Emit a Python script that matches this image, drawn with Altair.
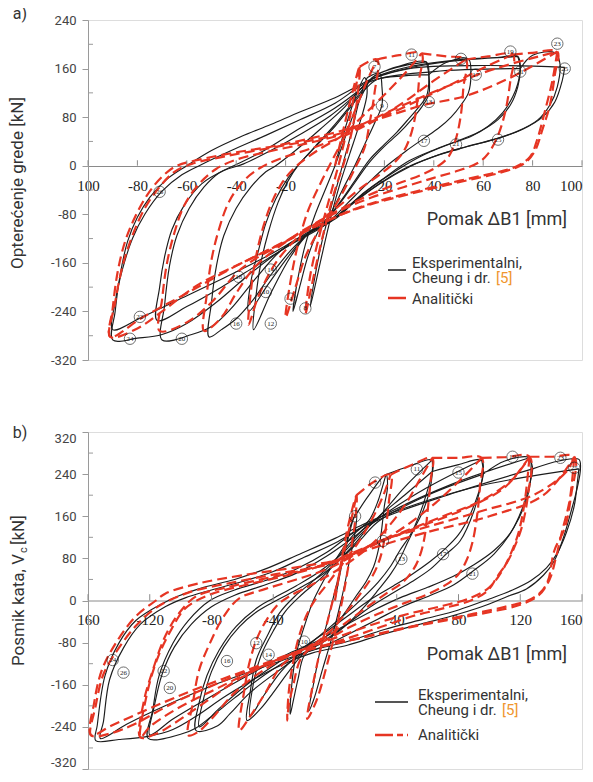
import altair as alt
import pandas as pd

# ---------------- Panel a data (beam load vs displacement) ----------------
a_exp_1 = [(0,0),(4,60),(8,110),(12,145),(13,120),(10,70),(6,20),(2,-30),(-2,-90),(-6,-160),(-10,-232),(-8,-180),(-5,-120),(-1,-60),(3,0),(7,60),(10,110),(13,145)]
a_exp_2 = [(13,145),(18,152),(19,130),(19,100),(16,70),(12,35),(8,0),(3,-40),(-2,-80),(-7,-110),(-11,-150),(-14,-195),(-17,-240),(-15,-185),(-12,-130),(-8,-80),(-4,-40),(0,0),(4,45),(8,90),(12,125),(15,145),(18,152)]
a_exp_3 = [(18,152),(25,163),(37,171),(38,145),(37,114),(34,97),(30,78),(25,55),(20,35),(14,10),(8,-25),(2,-60),(-4,-90),(-10,-108),(-18,-150),(-26,-210),(-33,-270),(-32,-215),(-30,-160),(-27,-110),(-23,-60),(-19,-25),(-15,0),(-8,32),(0,68),(7,103),(12,130),(16,148),(25,162),(37,171)]
a_exp_3b = [(37,171),(38,150),(38,118),(35,96),(31,76),(26,54),(20,32),(14,6),(8,-28),(2,-62),(-4,-92),(-11,-112),(-19,-150),(-27,-195),(-35,-240),(-34,-190),(-31,-140),(-28,-95),(-24,-55),(-19,-20),(-14,5),(-7,35),(0,65),(6,95),(12,125),(17,142),(28,148),(38,150)]
a_exp_4 = [(38,150),(45,170),(54,176),(55,150),(54,120),(51,100),(47,80),(42,62),(36,45),(29,25),(21,0),(13,-30),(5,-62),(-2,-90),(-9,-105),(-18,-140),(-26,-180),(-33,-220),(-40,-252),(-46,-270),(-51,-282),(-50,-225),(-48,-165),(-45,-115),(-40,-70),(-34,-35),(-28,-10),(-24,0),(-16,25),(-6,60),(4,97),(10,125),(15,143),(30,163),(54,176)]
a_exp_5 = [(54,176),(65,178),(74,180),(75,163),(74,135),(72,114),(68,88),(62,65),(55,48),(46,35),(36,18),(26,-5),(15,-35),(5,-68),(-3,-95),(-12,-112),(-22,-140),(-32,-185),(-42,-235),(-50,-265),(-58,-278),(-70,-287),(-69,-230),(-67,-165),(-64,-115),(-59,-70),(-53,-35),(-47,-12),(-41,0),(-30,22),(-14,62),(0,95),(10,125),(15,143),(35,165),(55,175),(74,180)]
a_exp_5b = [(74,180),(75,160),(74,130),(71,100),(66,76),(58,55),(49,40),(40,26),(30,8),(20,-20),(10,-50),(2,-80),(-6,-103),(-18,-130),(-32,-165),(-46,-200),(-60,-232),(-72,-255),(-71,-200),(-69,-150),(-66,-105),(-61,-65),(-54,-30),(-45,-8),(-37,3),(-26,25),(-14,52),(-2,82),(7,112),(14,138),(40,155),(75,160)]
a_exp_6 = [(75,160),(80,182),(89,186),(91,170),(90,130),(87,100),(82,75),(74,57),(64,43),(52,30),(40,15),(28,-5),(16,-35),(6,-65),(-2,-92),(-10,-110),(-22,-140),(-35,-180),(-48,-225),(-60,-260),(-70,-278),(-80,-284),(-90,-287),(-89,-240),(-87,-180),(-84,-125),(-80,-85),(-75,-52),(-68,-22),(-60,0),(-50,25),(-38,48),(-26,68),(-14,89),(0,112),(10,133),(15,143),(30,160),(60,165),(93,162)]
a_exp_6b = [(93,162),(92,140),(89,105),(84,80),(76,60),(66,45),(54,32),(42,18),(30,-2),(18,-30),(8,-60),(0,-88),(-8,-106),(-14,-118),(-28,-150),(-45,-185),(-62,-218),(-78,-249),(-90,-270),(-89,-225),(-86,-170),(-82,-120),(-77,-80),(-70,-42),(-62,-15),(-54,2),(-42,25),(-28,50),(-14,76),(0,103),(9,128),(15,142)]

a_ana_1 = [(0,0),(4,70),(7,120),(10,163),(9,110),(7,60),(4,10),(0,-40),(-4,-100),(-8,-170),(-12,-245),(-10,-180),(-6,-110),(-2,-50),(2,10),(6,80),(10,163)]
a_ana_2 = [(10,163),(17,175),(16,120),(14,70),(12,30),(8,-5),(3,-45),(-2,-80),(-7,-110),(-12,-150),(-16,-200),(-20,-250),(-18,-190),(-15,-130),(-11,-75),(-6,-30),(-1,10),(4,50),(9,100),(13,140),(17,175)]
a_ana_3 = [(17,175),(26,182),(35,185),(34,140),(33,95),(31,55),(28,25),(24,5),(18,-15),(10,-38),(2,-65),(-6,-90),(-15,-118),(-24,-160),(-31,-215),(-35,-262),(-34,-205),(-32,-150),(-29,-100),(-25,-55),(-20,-20),(-14,5),(-6,28),(3,50),(12,85),(22,125),(30,160),(35,185)]
a_ana_4 = [(35,185),(45,180),(53,175),(52,130),(51,85),(49,45),(46,15),(42,0),(35,-15),(25,-30),(14,-48),(3,-70),(-6,-90),(-18,-120),(-32,-165),(-40,-210),(-46,-250),(-53,-272),(-52,-215),(-50,-155),(-47,-105),(-43,-60),(-37,-25),(-30,-3),(-22,12),(-10,28),(3,48),(15,72),(28,105),(40,140),(53,175)]
a_ana_5 = [(53,175),(62,180),(72,183),(71,140),(69,90),(66,50),(62,20),(58,5),(50,-8),(40,-20),(28,-35),(15,-52),(3,-72),(-6,-92),(-20,-125),(-38,-170),(-50,-225),(-60,-258),(-71,-272),(-70,-220),(-68,-160),(-65,-110),(-61,-65),(-55,-30),(-48,-5),(-40,10),(-25,25),(-10,38),(3,52),(18,78),(35,110),(50,140),(62,165),(72,183)]
a_ana_6 = [(72,183),(80,186),(90,188),(89,150),(87,100),(84,60),(81,25),(77,5),(70,-8),(58,-20),(45,-32),(30,-47),(15,-63),(3,-80),(-5,-95),(-18,-120),(-35,-155),(-55,-195),(-70,-240),(-80,-268),(-91,-282),(-90,-235),(-88,-175),(-85,-125),(-81,-85),(-76,-48),(-70,-18),(-64,0),(-55,10),(-40,22),(-25,32),(-10,45),(3,58),(20,80),(36,100),(53,115),(72,147),(90,188)]
a_ana_6b = [(90,188),(88,140),(85,90),(82,45),(79,15),(73,-2),(62,-14),(48,-27),(33,-42),(18,-58),(5,-76),(-4,-92),(-20,-125),(-40,-165),(-60,-210),(-78,-250),(-91,-282),(-89,-225),(-86,-165),(-82,-115),(-77,-70),(-71,-35),(-65,-10),(-58,3),(-45,15),(-28,28),(-12,40),(2,53),(25,95),(45,130),(65,160),(90,188)]

a_lab_text = ["7","11","15","19","23","25","17","21","9","13","17","21","25","26","24","22","20","16","12","8","4","18","14","10"]
a_lab_x = [16,31,51,71,90,93,57,75,19,38,36,49,66,-71,-83,-79,-62,-40,-26,-12,-18,-39,-26,-28]
a_lab_y = [163,183,176,188,201,160,150,155,99,105,41,35,43,-43,-285,-249,-285,-260,-260,-235,-219,-183,-171,-208]

# ---------------- Panel b data (storey shear vs displacement) ----------------
b_exp_1 = [(0,0),(6,90),(11,150),(14,165),(13,130),(9,70),(4,0),(-2,-70),(-8,-130),(-14,-190),(-17,-210),(-14,-160),(-10,-100),(-5,-40),(1,30),(7,100),(12,155),(14,165)]
b_exp_2 = [(14,165),(22,200),(33,239),(34,215),(32,180),(30,130),(28,95),(25,64),(20,35),(14,10),(6,-25),(-3,-60),(-12,-85),(-20,-105),(-24,-150),(-27,-190),(-29,-216),(-28,-160),(-25,-100),(-20,-50),(-14,0),(-7,40),(2,85),(12,125),(22,152),(28,190),(33,239)]
b_exp_3 = [(33,239),(48,255),(63,267),(63,240),(61,205),(57,170),(52,140),(47,110),(42,79),(36,50),(28,20),(18,-15),(6,-50),(-8,-80),(-20,-100),(-30,-135),(-40,-175),(-48,-205),(-57,-228),(-55,-175),(-51,-113),(-44,-68),(-36,-24),(-26,8),(-15,35),(-2,70),(10,110),(20,140),(28,158),(45,215),(63,267)]
b_exp_3b = [(63,267),(63,245),(60,210),(55,165),(49,126),(42,95),(36,65),(28,35),(18,5),(5,-30),(-8,-62),(-20,-92),(-35,-135),(-46,-180),(-55,-220),(-53,-160),(-48,-105),(-40,-58),(-32,-20),(-22,10),(-10,40),(2,75),(14,112),(25,150),(45,200),(63,245)]
b_exp_4 = [(63,245),(80,258),(95,267),(96,245),(95,226),(90,170),(81,113),(72,88),(62,60),(50,36),(38,15),(24,-10),(10,-40),(-4,-70),(-18,-95),(-35,-130),(-55,-175),(-68,-215),(-76,-238),(-90,-247),(-88,-194),(-83,-143),(-75,-94),(-64,-49),(-49,-11),(-40,4),(-25,28),(-10,55),(5,90),(18,130),(28,155),(60,215),(95,267)]
b_exp_4b = [(95,267),(96,240),(93,205),(87,160),(80,125),(72,100),(62,75),(50,50),(38,28),(22,0),(8,-30),(-6,-60),(-20,-88),(-38,-120),(-58,-162),(-75,-205),(-88,-240),(-85,-185),(-80,-135),(-72,-88),(-62,-50),(-50,-20),(-38,0),(-22,25),(-8,50),(6,85),(18,120),(28,150),(60,200),(96,240)]
b_exp_5 = [(96,240),(110,265),(126,271),(127,250),(125,201),(116,139),(103,88),(89,55),(77,30),(62,10),(45,-10),(28,-35),(10,-62),(-8,-88),(-25,-105),(-45,-140),(-65,-185),(-80,-220),(-90,-242),(-100,-254),(-121,-262),(-118,-207),(-114,-143),(-105,-81),(-95,-38),(-81,0),(-65,20),(-45,38),(-25,60),(-5,92),(10,125),(25,152),(75,220),(126,271)]
b_exp_5b = [(126,271),(128,250),(126,220),(122,180),(114,130),(103,95),(90,68),(76,45),(60,25),(42,5),(24,-20),(5,-50),(-12,-78),(-28,-98),(-55,-140),(-82,-185),(-105,-225),(-120,-255),(-117,-200),(-112,-140),(-104,-88),(-93,-45),(-80,-12),(-65,10),(-45,30),(-25,52),(-5,85),(12,120),(26,150),(78,205),(128,250)]
b_exp_6 = [(128,250),(145,265),(158,268),(159,250),(157,215),(153,170),(148,120),(142,75),(135,48),(124,22),(112,8),(95,-12),(75,-30),(55,-45),(30,-65),(8,-85),(-15,-100),(-40,-130),(-70,-180),(-90,-220),(-105,-245),(-121,-258),(-140,-264),(-155,-266),(-154,-237),(-149,-143),(-140,-81),(-129,-38),(-112,-6),(-101,9),(-85,25),(-65,40),(-45,60),(-23,88),(0,118),(15,140),(28,157),(90,215),(158,250)]
b_exp_6b = [(158,250),(157,225),(155,180),(150,130),(144,90),(137,62),(127,38),(115,20),(100,3),(80,-18),(58,-35),(32,-55),(8,-78),(-15,-95),(-45,-125),(-78,-160),(-110,-200),(-135,-235),(-152,-262),(-150,-230),(-146,-150),(-137,-90),(-126,-45),(-110,-12),(-97,5),(-80,20),(-60,36),(-40,55),(-20,82),(2,112),(16,137),(28,155)]

b_ana_1 = [(0,0),(5,90),(10,160),(14,200),(13,150),(10,90),(6,20),(1,-50),(-5,-120),(-12,-190),(-18,-225),(-15,-170),(-10,-100),(-4,-30),(2,40),(8,120),(14,200)]
b_ana_2 = [(14,200),(25,225),(36,239),(35,190),(33,140),(31,100),(28,70),(24,45),(17,15),(8,-20),(-2,-55),(-12,-80),(-22,-110),(-27,-160),(-30,-200),(-31,-228),(-30,-175),(-27,-115),(-23,-65),(-18,-25),(-12,5),(-4,35),(5,70),(15,110),(25,160),(32,205),(36,239)]
b_ana_3 = [(36,239),(50,258),(63,271),(62,230),(60,170),(58,120),(55,85),(51,60),(44,35),(34,15),(22,-10),(8,-40),(-6,-70),(-20,-92),(-35,-125),(-45,-175),(-55,-220),(-62,-247),(-59,-175),(-55,-113),(-49,-62),(-38,-11),(-29,9),(-15,30),(0,55),(15,85),(30,125),(45,180),(55,230),(63,271)]
b_ana_4 = [(63,271),(80,271),(95,271),(94,220),(92,160),(89,110),(85,75),(80,50),(72,30),(60,12),(45,-5),(28,-25),(10,-50),(-8,-78),(-25,-98),(-45,-130),(-65,-175),(-80,-225),(-88,-248),(-95,-256),(-92,-194),(-88,-132),(-81,-81),(-72,-30),(-62,4),(-45,22),(-25,40),(-5,60),(15,90),(40,130),(65,185),(85,240),(95,271)]
b_ana_5 = [(95,271),(110,272),(126,273),(125,201),(121,139),(116,100),(112,75),(105,45),(99,19),(88,0),(70,-15),(50,-30),(30,-50),(10,-70),(-10,-88),(-30,-105),(-60,-145),(-85,-195),(-105,-235),(-115,-252),(-126,-260),(-124,-194),(-118,-132),(-110,-68),(-101,-24),(-90,8),(-70,25),(-45,42),(-20,58),(5,80),(30,113),(70,160),(95,190),(115,230),(126,273)]
b_ana_5b = [(126,273),(123,190),(119,130),(114,90),(108,55),(100,25),(88,5),(70,-10),(48,-25),(25,-45),(3,-68),(-18,-90),(-45,-122),(-75,-165),(-102,-205),(-120,-240),(-126,-260),(-122,-180),(-115,-110),(-106,-55),(-97,-15),(-82,10),(-60,28),(-35,45),(-10,65),(15,95),(50,135),(85,175),(110,215),(126,273)]
b_ana_6 = [(126,273),(140,273),(155,273),(153,201),(149,139),(142,94),(138,38),(133,15),(125,0),(110,-12),(90,-25),(65,-40),(40,-55),(15,-72),(-10,-88),(-35,-110),(-70,-150),(-105,-195),(-130,-235),(-145,-252),(-158,-256),(-156,-194),(-151,-132),(-142,-81),(-129,-30),(-116,0),(-110,13),(-89,32),(-60,48),(-23,64),(5,80),(29,113),(60,140),(95,170),(129,201),(150,245),(155,273)]
b_ana_6b = [(155,273),(152,190),(147,130),(143,80),(139,40),(132,10),(120,-8),(100,-22),(75,-36),(50,-50),(25,-66),(0,-82),(-25,-98),(-55,-130),(-90,-168),(-120,-205),(-145,-238),(-158,-256),(-155,-200),(-150,-140),(-140,-90),(-128,-45),(-115,-12),(-95,15),(-65,35),(-35,52),(-5,68),(25,100),(60,130),(100,160),(135,200),(155,273)]

b_lab_text = ["5","7","11","15","19","23","25","9","13","17","21","24","26","22","20","16","12","14","10"]
b_lab_x = [13,26,53,80,115,146,155,31,43,70,89,-144,-137,-111,-107,-70,-51,-43,-20]
b_lab_y = [160,224,249,243,273,271,252,113,79,88,51,-113,-137,-134,-166,-115,-81,-103,-78]

# axes
a_x_ticks = [-100, -80, -60, -40, -20, 20, 40, 60, 80, 100]
a_y_ticks = [-320, -240, -160, -80, 0, 80, 160, 240]
a_y_minor = [-280, -200, -120, -40, 40, 120, 200]
b_x_ticks = [-160, -120, -80, -40, 40, 80, 120, 160]
b_y_ticks = [-320, -240, -160, -80, 0, 80, 160, 240, 320]
b_y_minor = [-280, -200, -120, -40, 40, 120, 200, 280]

BLACK = "#1c1c1c"
RED = "#e63523"
ORANGE = "#f0962e"
SANS = "Roboto"
SERIF = "Liberation Serif"
W = 494
HA, HB = 340, 337


def loops_df(loops):
    rows = []
    for name, pts in loops:
        for i, (x, y) in enumerate(pts):
            rows.append({"x": x, "y": y, "loop": name, "i": i})
    return pd.DataFrame(rows)


def txt(text, x, y, size=15, color="#333", font=SANS, align="left", angle=0, baseline="middle"):
    return alt.Chart(alt.Data(values=[{}])).mark_text(
        text=text, fontSize=size, color=color, font=font, align=align,
        angle=angle, baseline=baseline
    ).encode(x=alt.value(x), y=alt.value(y))


def hrule(x1, x2, y, color, width, dash=None):
    kw = dict(color=color, strokeWidth=width)
    if dash:
        kw["strokeDash"] = dash
    return alt.Chart(alt.Data(values=[{}])).mark_rule(**kw).encode(
        x=alt.value(x1), x2=alt.value(x2), y=alt.value(y))


def panel(exp_loops, ana_loops, lab_t, lab_x, lab_y, xdom, ydom, xt, yt, ym,
          axis_offset, tick_len, flush):
    xs = alt.Scale(domain=xdom, nice=False, zero=False)
    ys = alt.Scale(domain=ydom, nice=False, zero=False)
    lo, hi = xdom
    lab_expr_x = ("datum.value == %d ? '%d' : (datum.value < 0 ? '-' + abs(datum.value) : '' + datum.value)"
                  % (lo, abs(lo)))
    lab_expr_y = "datum.value < 0 ? '-' + abs(datum.value) : '' + datum.value"
    xax = alt.Axis(values=xt, offset=axis_offset, ticks=False, grid=False, title=None,
                   labelExpr=lab_expr_x, labelFont=SERIF, labelFontSize=15, labelColor="#222",
                   labelPadding=12, domainColor="#8a8a8a", domainWidth=1,
                   labelAlign=alt.expr("datum.value == %d ? 'right' : 'center'" % hi))
    yax = alt.Axis(values=yt, tickSize=6, tickColor="#9a9a9a", domainColor="#9a9a9a", grid=False,
                   title=None, labelExpr=lab_expr_y, labelFont=SANS, labelFontSize=13,
                   labelColor="#444", labelPadding=6, labelFlush=flush)

    def X(f):
        return alt.X(f, scale=xs, axis=xax)

    def Y(f):
        return alt.Y(f, scale=ys, axis=yax)

    exp = alt.Chart(loops_df(exp_loops)).mark_line(
        color=BLACK, strokeWidth=1.15, interpolate="catmull-rom"
    ).encode(x=X("x:Q"), y=Y("y:Q"), detail="loop:N", order="i:Q")

    ana = alt.Chart(loops_df(ana_loops)).mark_line(
        color=RED, strokeWidth=2.2, strokeDash=[10, 5], interpolate="catmull-rom"
    ).encode(x=X("x:Q"), y=Y("y:Q"), detail="loop:N", order="i:Q")

    lab_df = pd.DataFrame({"t": lab_t, "x": lab_x, "y": lab_y})
    circ = alt.Chart(lab_df).mark_point(
        shape="circle", size=130, filled=False, color=BLACK, strokeWidth=0.9
    ).encode(x=X("x:Q"), y=Y("y:Q"))
    nums = alt.Chart(lab_df).mark_text(
        fontSize=7, font=SERIF, color=BLACK, baseline="middle", align="center"
    ).encode(x=X("x:Q"), y=Y("y:Q"), text="t:N")

    tk_df = pd.DataFrame({"x": xt, "y": [0] * len(xt), "y1": [tick_len] * len(xt)})
    xticks = alt.Chart(tk_df).mark_rule(color="#8a8a8a", strokeWidth=1).encode(
        x=X("x:Q"), y=Y("y:Q"), y2="y1:Q")

    ym_df = pd.DataFrame({"y": ym})
    yminor = alt.Chart(ym_df).mark_rule(color="#9a9a9a", strokeWidth=1).encode(
        y=Y("y:Q"), x=alt.value(0), x2=alt.value(5))

    return [exp, ana, circ, nums, xticks, yminor]


layers_a = panel(
    [("e1", a_exp_1), ("e2", a_exp_2), ("e3", a_exp_3), ("e3b", a_exp_3b), ("e4", a_exp_4),
     ("e5", a_exp_5), ("e5b", a_exp_5b), ("e6", a_exp_6), ("e6b", a_exp_6b)],
    [("a1", a_ana_1), ("a2", a_ana_2), ("a3", a_ana_3), ("a4", a_ana_4), ("a5", a_ana_5),
     ("a6", a_ana_6), ("a6b", a_ana_6b)],
    a_lab_text, a_lab_x, a_lab_y, [-100, 100], [-320, 240], a_x_ticks, a_y_ticks, a_y_minor,
    -194, 9, False)

layers_a += [
    txt("a)", -68, -6, size=16, align="center"),
    txt("Opterećenje grede [kN]", -70, 163, size=17, align="center", angle=270),
    txt("Pomak ΔB1 [mm]", 409, 200, size=18, align="center"),
    hrule(300, 318, 250, BLACK, 1.5),
    txt("Eksperimentalni,", 324, 243),
    txt("Cheung i dr.", 324, 258),
    txt("[5]", 408, 258, color=ORANGE),
    hrule(300, 318, 278, RED, 2.5),
    txt("Analitički", 324, 279),
]

layers_b = panel(
    [("e1", b_exp_1), ("e2", b_exp_2), ("e3", b_exp_3), ("e3b", b_exp_3b), ("e4", b_exp_4),
     ("e4b", b_exp_4b), ("e5", b_exp_5), ("e5b", b_exp_5b), ("e6", b_exp_6), ("e6b", b_exp_6b)],
    [("a1", b_ana_1), ("a2", b_ana_2), ("a3", b_ana_3), ("a4", b_ana_4), ("a5", b_ana_5),
     ("a5b", b_ana_5b), ("a6", b_ana_6), ("a6b", b_ana_6b)],
    b_lab_text, b_lab_x, b_lab_y, [-160, 160], [-320, 320], b_x_ticks, b_y_ticks, b_y_minor,
    -HB / 2, 12, True)

layers_b += [
    txt("b)", -68, 1, size=16, align="center"),
    txt("Posmik kata, V", -69, 122, size=17, align="right", angle=270),
    txt("c", -64, 121, size=11, align="left", angle=270),
    txt("[kN]", -69, 113, size=17, align="left", angle=270),
    txt("Pomak ΔB1 [mm]", 409, 223, size=18, align="center"),
    hrule(287, 320, 270, BLACK, 1.5),
    txt("Eksperimentalni,", 330, 263),
    txt("Cheung i dr.", 330, 278),
    txt("[5]", 414, 278, color=ORANGE),
    hrule(287, 320, 303, RED, 2.5, dash=[18, 4, 6, 4]),
    txt("Analitički", 330, 303),
]

panel_a = alt.layer(*layers_a).properties(width=W, height=HA)
panel_b = alt.layer(*layers_b).properties(width=W, height=HB)

chart = alt.vconcat(panel_a, panel_b, spacing=72, bounds="flush").properties(
    padding={"left": 0, "top": -3, "right": 0, "bottom": 0}
).configure_view(stroke="#8ea5d3", strokeWidth=1.3).configure(background="white")

chart.save("out.html", embed_options={"renderer": "svg", "actions": False})
